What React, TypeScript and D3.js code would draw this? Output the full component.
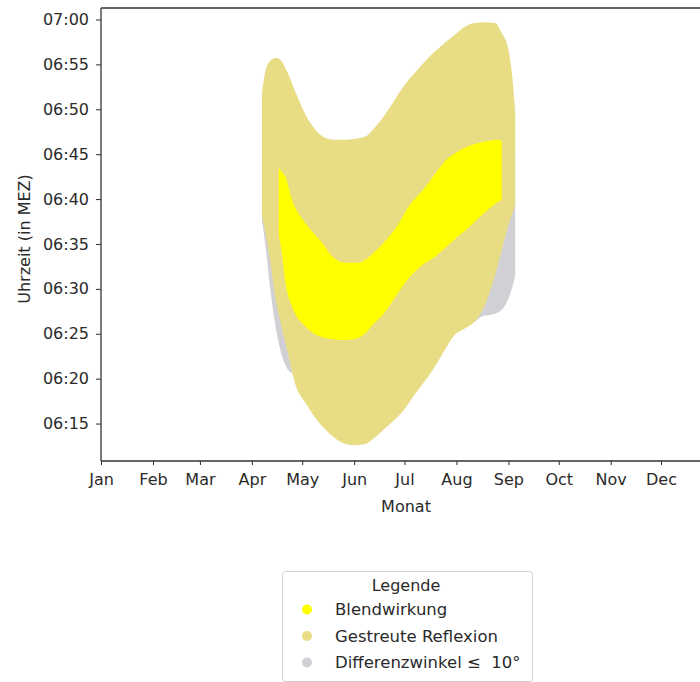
import React, { useEffect, useRef } from "react";
import * as d3 from "d3";

// sample days and the time window of each effect, in minutes after 06:00 (MEZ)
const reflexDates = [
  "04-07", "04-09", "04-12", "04-15", "04-18", "04-22", "04-27", "05-03",
  "05-09", "05-15", "05-21", "05-27", "06-01", "06-07", "06-13", "06-19",
  "06-25", "07-01", "07-07", "07-13", "07-19", "07-25", "07-31", "08-06",
  "08-12", "08-18", "08-24", "08-28", "09-01", "09-03", "09-05",
];
const reflexEnd = [
  51.9, 54.2, 55.4, 55.7, 55.5, 54.2, 51.9, 49.4, 47.7, 46.8, 46.6, 46.6,
  46.7, 46.9, 47.9, 49.3, 51.0, 52.7, 54.0, 55.3, 56.4, 57.4, 58.3, 59.2,
  59.6, 59.7, 59.6, 58.5, 56.6, 54.2, 49.9,
];
const reflexStart = [
  38.2, 36.3, 33.0, 29.0, 26.3, 23.2, 19.3, 17.3, 15.6, 14.3, 13.3, 12.7,
  12.6, 12.7, 13.4, 14.4, 15.4, 16.6, 18.2, 19.7, 21.3, 23.2, 24.9, 25.6,
  26.4, 28.2, 31.5, 34.3, 37.1, 38.2, 39.3,
];

const glareDates = [
  "04-17", "04-19", "04-21", "04-25", "05-03", "05-13", "05-19", "05-27",
  "06-03", "06-09", "06-13", "06-18", "06-27", "07-04", "07-12", "07-20",
  "07-26", "08-01", "08-07", "08-13", "08-21", "08-25", "08-28",
];
const glareEnd = [
  43.5, 43.0, 42.5, 39.9, 37.3, 35.1, 33.6, 32.9, 32.9, 33.4, 34.1, 35.0,
  37.1, 39.3, 41.0, 43.0, 44.4, 45.2, 45.8, 46.2, 46.5, 46.6, 46.5,
];
const glareStart = [
  36.0, 33.8, 30.7, 28.0, 25.8, 24.6, 24.4, 24.3, 24.5, 25.3, 26.2, 27.1,
  29.5, 31.3, 32.7, 33.7, 34.7, 35.7, 36.6, 37.7, 39.0, 39.6, 39.9,
];

const angleSpringDates = ["04-07", "04-09", "04-12", "04-16", "04-21", "04-25"];
const angleSpringEnd = [39.9, 39.5, 39.0, 38.5, 38.0, 37.0];
const angleSpringStart = [37.7, 34.9, 29.9, 24.9, 21.5, 20.6];

const angleSummerDates = ["08-12", "08-17", "08-21", "08-25", "08-29", "09-01", "09-03", "09-05"];
const angleSummerEnd = [44.0, 44.0, 45.0, 45.0, 46.0, 46.0, 46.0, 45.0];
const angleSummerStart = [26.3, 27.0, 27.1, 27.3, 27.9, 28.9, 30.0, 31.5];

const monthLabels = ["Jan", "Feb", "Mar", "Apr", "May", "Jun", "Jul", "Aug", "Sep", "Oct", "Nov", "Dec"];
const timeTicks = ["06:15", "06:20", "06:25", "06:30", "06:35", "06:40", "06:45", "06:50", "06:55", "07:00"];

const legendLabels = ["Blendwirkung", "Gestreute Reflexion", "Differenzwinkel ≤  10°"];
const legendColors = ["#ffff00", "#e8dc84", "#d0d0d5"];

const parseDay = d3.timeParse("%Y-%m-%d");
const parseTime = d3.timeParse("%H:%M");
const toTime = (m: number) => new Date(1900, 0, 1, 6, 0, 0, Math.round(m * 60000));

type Pt = { date: Date; start: number; end: number };
const rows = (dates: string[], start: number[], end: number[]): Pt[] =>
  dates.map((d, i) => ({ date: parseDay("2021-" + d) as Date, start: start[i], end: end[i] }));

const App = () => {
  const ref = useRef<SVGSVGElement>(null);

  useEffect(() => {
    const svg = d3.select(ref.current);
    svg.selectAll("*").remove();

    const left = 101;
    const top = 8;
    const bottom = 461;
    const font = "DejaVu Sans, sans-serif";

    const x = d3
      .scaleTime()
      .domain([parseDay("2021-01-01") as Date, parseDay("2022-01-01") as Date])
      .range([left, 713]);
    const y = d3.scaleTime().domain([toTime(10.83), toTime(61.28)]).range([bottom, top]);

    const area = d3
      .area<Pt>()
      .x((d) => x(d.date))
      .y0((d) => y(toTime(d.start)))
      .y1((d) => y(toTime(d.end)))
      .curve(d3.curveMonotoneX);

    const layers: [Pt[], string][] = [
      [rows(angleSpringDates, angleSpringStart, angleSpringEnd), legendColors[2]],
      [rows(angleSummerDates, angleSummerStart, angleSummerEnd), legendColors[2]],
      [rows(reflexDates, reflexStart, reflexEnd), legendColors[1]],
      [rows(glareDates, glareStart, glareEnd), legendColors[0]],
    ];
    layers.forEach(([data, color]) => {
      svg.append("path").datum(data).attr("d", area).attr("fill", color);
    });

    // axes
    const xAxis = d3
      .axisBottom(x)
      .tickValues(d3.timeMonth.range(x.domain()[0], x.domain()[1]))
      .tickFormat((_, i) => monthLabels[i])
      .tickSize(4)
      .tickPadding(9);
    const gx = svg
      .append("g")
      .attr("transform", `translate(0,${bottom})`)
      .style("color", "#2a2a2a")
      .call(xAxis);
    gx.select(".domain").remove();
    gx.selectAll("text").attr("font-size", 16).attr("font-family", font);

    const yAxis = d3
      .axisLeft(y)
      .tickValues(timeTicks.map((t) => parseTime(t) as Date))
      .tickFormat(d3.timeFormat("%H:%M") as any)
      .tickSize(5)
      .tickPadding(7);
    const gy = svg
      .append("g")
      .attr("transform", `translate(${left},0)`)
      .style("color", "#2a2a2a")
      .call(yAxis);
    gy.select(".domain").remove();
    gy.selectAll("text").attr("font-size", 16).attr("font-family", font);

    // spines
    const spines = [
      [left, top, 700, top],
      [left, top, left, bottom],
      [left, bottom, 700, bottom],
    ];
    spines.forEach(([x1, y1, x2, y2]) => {
      svg
        .append("line")
        .attr("x1", x1)
        .attr("y1", y1)
        .attr("x2", x2)
        .attr("y2", y2)
        .attr("stroke", "#333")
        .attr("stroke-width", 1.3);
    });

    // axis titles
    svg
      .append("text")
      .attr("x", 406)
      .attr("y", 512)
      .attr("text-anchor", "middle")
      .attr("font-size", 16)
      .attr("font-family", font)
      .attr("fill", "#2a2a2a")
      .text("Monat");

    svg
      .append("text")
      .attr("transform", "translate(30,239) rotate(-90)")
      .attr("text-anchor", "middle")
      .attr("font-size", 16)
      .attr("font-family", font)
      .attr("fill", "#2a2a2a")
      .text("Uhrzeit (in MEZ)");

    // legend
    const lg = svg.append("g");
    lg.append("rect")
      .attr("x", 282.5)
      .attr("y", 571.5)
      .attr("width", 250)
      .attr("height", 110)
      .attr("rx", 3)
      .attr("fill", "white")
      .attr("stroke", "#d0d0d0");
    lg.append("text")
      .attr("x", 406)
      .attr("y", 591)
      .attr("text-anchor", "middle")
      .attr("font-size", 16)
      .attr("font-family", font)
      .attr("fill", "#2a2a2a")
      .text("Legende");

    const item = lg
      .selectAll(".item")
      .data(legendLabels)
      .enter()
      .append("g")
      .attr("class", "item")
      .attr("transform", (_, i) => `translate(0,${615 + i * 26.5})`);
    item
      .append("circle")
      .attr("cx", 307)
      .attr("cy", -5.5)
      .attr("r", 5)
      .attr("fill", (_, i) => legendColors[i]);
    item
      .append("text")
      .attr("x", 335)
      .attr("y", 0)
      .attr("font-size", 16.5)
      .attr("font-family", font)
      .attr("fill", "#2a2a2a")
      .style("white-space", "pre")
      .text((d) => d);
  }, []);

  return (
    <div style={{ position: "absolute", left: 0, top: 0 }}>
      <svg ref={ref} width={700} height={682} style={{ display: "block", background: "white" }}></svg>
    </div>
  );
};

export default App;
